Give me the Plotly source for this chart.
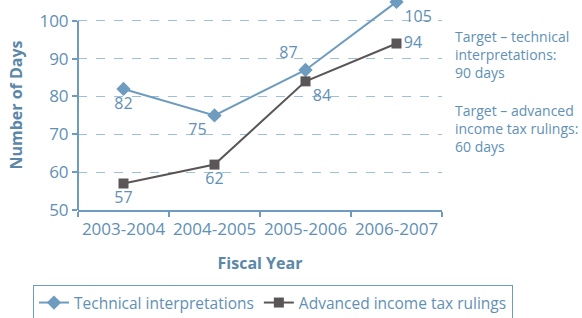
import plotly.graph_objects as go

years = ["2003-2004", "2004-2005", "2005-2006", "2006-2007"]
technical = [82, 75, 87, 105]
advanced = [57, 62, 84, 94]
y_ticks = [50, 60, 70, 80, 90, 100]

BLUE = "#6d9cbf"
TXT = "#5f90b5"
DARK = "#5a5556"
FONT = "Open Sans"

fig = go.Figure()
fig.add_trace(go.Scatter(
    x=years, y=technical, name="Technical interpretations",
    mode="lines+markers+text",
    line=dict(color=BLUE, width=2),
    marker=dict(symbol="diamond", size=11, color=BLUE),
    text=[str(v) for v in technical],
    textposition=["bottom center", "bottom left", "top left", "bottom right"],
    textfont=dict(family=FONT, size=16, color=TXT),
    cliponaxis=False,
))
fig.add_trace(go.Scatter(
    x=years, y=advanced, name="Advanced income tax rulings",
    mode="lines+markers+text",
    line=dict(color=DARK, width=2),
    marker=dict(symbol="square", size=10, color=DARK),
    text=[str(v) for v in advanced],
    textposition=["bottom center", "bottom center", "bottom right", "middle right"],
    textfont=dict(family=FONT, size=16, color=TXT),
    cliponaxis=False,
))

fig.add_shape(type="line", xref="paper", yref="y", x0=0, x1=0, y0=50, y1=100,
              line=dict(color=BLUE, width=2))

fig.add_annotation(xref="paper", yref="paper", x=1.03, y=0.88, xanchor="left", yanchor="top",
                   text="Target – technical<br>interpretations:<br>90 days", showarrow=False, align="left",
                   font=dict(family=FONT, size=14, color=TXT))
fig.add_annotation(xref="paper", yref="paper", x=1.03, y=0.53, xanchor="left", yanchor="top",
                   text="Target – advanced<br>income tax rulings:<br>60 days", showarrow=False, align="left",
                   font=dict(family=FONT, size=14, color=TXT))

fig.update_layout(
    width=582, height=318,
    margin=dict(l=78, r=140, t=0, b=108, autoexpand=False),
    paper_bgcolor="white", plot_bgcolor="white",
    font=dict(family=FONT, size=15, color=TXT),
    showlegend=True,
    legend=dict(orientation="h", x=1.195, y=-0.357, xanchor="right", yanchor="top",
                bordercolor=BLUE, borderwidth=1, font=dict(family=FONT, size=15.5, color=TXT),
                traceorder="normal"),
    xaxis=dict(
        type="category", range=[-0.5, 3.5], tickson="boundaries", tickangle=0,
        ticks="outside", ticklen=5, tickcolor=BLUE, tickwidth=2, ticklabelstandoff=3,
        showline=True, linecolor=BLUE, linewidth=2, showgrid=False,
        tickfont=dict(family=FONT, size=17, color=TXT),
        title=dict(text="<b>Fiscal Year</b>", font=dict(family=FONT, size=16, color="#5b87a8"), standoff=18),
    ),
    yaxis=dict(
        range=[50, 105.5], tickvals=y_ticks, ticks="outside", ticklen=5, tickcolor=BLUE, tickwidth=2,
        showline=False, zeroline=False,
        showgrid=True, gridcolor="#9dbfd8", griddash="dash", gridwidth=1,
        tickfont=dict(family=FONT, size=17, color=TXT),
        title=dict(text="<b>Number of Days</b>", font=dict(family=FONT, size=16, color="#5b87a8"), standoff=12),
    ),
)

fig.write_html("out.html", config={"displayModeBar": False},
               post_script="document.body.style.margin='0';")
